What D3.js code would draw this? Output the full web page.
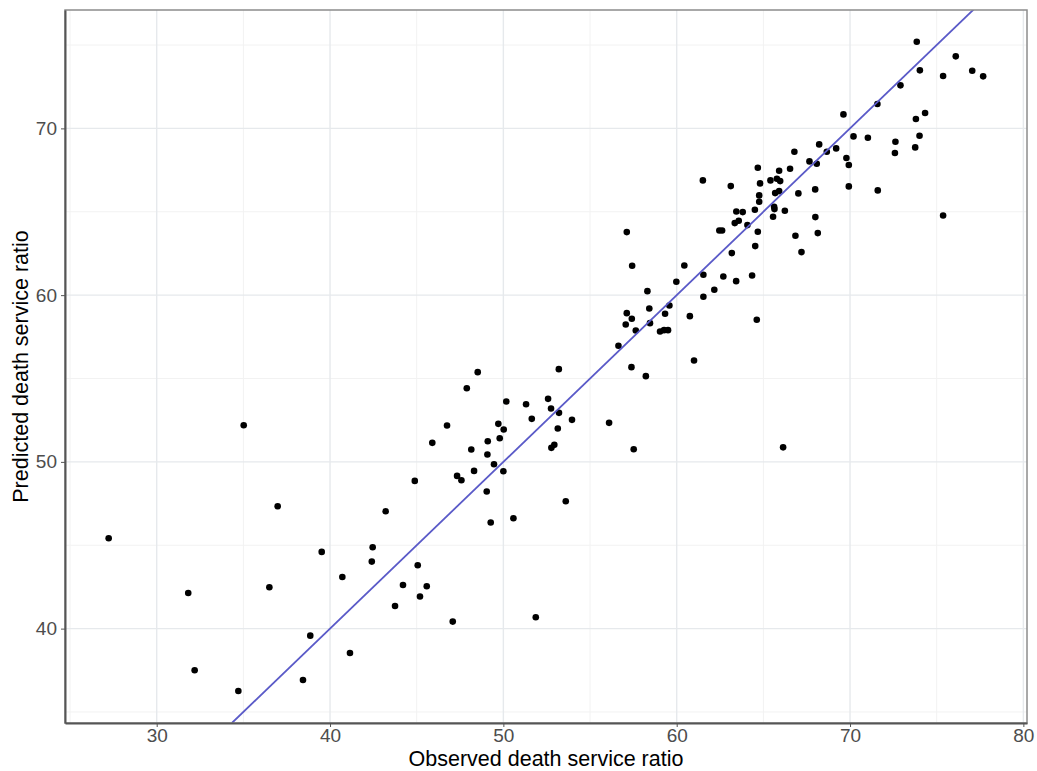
<!DOCTYPE html>
<html>
<head>
<meta charset="utf-8">
<script src="https://cdn.jsdelivr.net/npm/d3@7"></script>
<style>
  body { margin: 0; background: #fff; }
  text { font-family: "Liberation Sans", Arial, sans-serif; }
</style>
</head>
<body>
<div id="chart"></div>
<script>
// observed vs predicted death service ratio
const observed = [
  27.23, 35.02, 36.98, 43.21, 39.52, 42.46, 42.41, 40.71, 36.50, 31.82,
  43.75, 38.86, 41.15, 32.19, 38.44, 34.71, 45.06, 44.21, 45.58, 45.19,
  47.08, 51.87, 44.89, 45.90, 46.75, 47.89, 48.52, 47.33, 47.58, 48.15,
  48.31, 49.10, 49.08, 49.04, 49.46, 49.27, 49.71, 49.79, 50.02, 50.00,
  50.17, 50.58, 51.31, 51.64, 52.58, 52.75, 53.20, 53.21, 53.14, 52.94,
  52.77, 53.60, 53.96, 56.10, 57.52, 61.00, 56.64, 57.39, 58.22, 57.12,
  57.41, 57.06, 57.64, 58.42, 58.46, 59.33, 59.58, 59.04, 59.27, 59.50,
  60.76, 68.22, 68.66, 66.79, 67.66, 68.08, 66.54, 64.68, 65.91, 65.78,
  65.97, 65.41, 64.81, 61.51, 63.12, 67.99, 67.02, 65.91, 65.68, 64.76,
  64.76, 64.51, 65.62, 65.64, 66.24, 63.44, 63.81, 65.56, 68.00, 63.35,
  63.58, 64.08, 62.46, 62.62, 64.68, 68.14, 66.85, 57.12, 64.53, 67.20,
  63.18, 57.43, 60.44, 61.54, 62.69, 64.35, 63.43, 59.98, 62.17, 61.54,
  58.31, 64.62, 66.14, 73.85, 76.10, 74.03, 75.37, 77.05, 77.68, 72.91,
  71.58, 69.62, 73.80, 74.33, 70.20, 71.03, 74.01, 72.62, 72.59, 73.76,
  69.20, 69.79, 69.93, 69.93, 71.60, 75.37
];
const predicted = [
  45.42, 52.20, 47.34, 47.04, 44.60, 44.88, 44.02, 43.10, 42.48, 42.14,
  41.36, 39.58, 38.54, 37.50, 36.92, 36.26, 43.80, 42.62, 42.54, 41.93,
  40.42, 40.68, 48.86, 51.14, 52.18, 54.42, 55.38, 49.16, 48.90, 50.74,
  49.46, 51.24, 50.44, 48.22, 49.86, 46.36, 52.28, 51.42, 51.94, 49.44,
  53.62, 46.62, 53.46, 52.58, 53.78, 53.20, 55.56, 52.94, 52.00, 51.02,
  50.84, 47.64, 52.52, 52.34, 50.76, 56.08, 56.96, 55.68, 55.14, 58.92,
  58.58, 58.24, 57.88, 59.20, 58.32, 58.88, 59.38, 57.82, 57.90, 57.90,
  58.74, 69.04, 68.60, 68.60, 68.02, 67.88, 67.58, 67.64, 67.46, 66.98,
  66.84, 66.88, 66.70, 66.88, 66.54, 66.34, 66.10, 66.24, 66.12, 65.98,
  65.60, 65.12, 65.30, 65.16, 65.06, 65.02, 64.98, 64.70, 64.68, 64.32,
  64.46, 64.20, 63.88, 63.88, 63.80, 63.72, 63.56, 63.78, 62.94, 62.58,
  62.52, 61.76, 61.78, 61.22, 61.12, 61.18, 60.84, 60.80, 60.32, 59.90,
  60.24, 58.52, 50.87, 75.20, 74.32, 73.48, 73.14, 73.46, 73.12, 72.58,
  71.46, 70.84, 70.56, 70.92, 69.52, 69.44, 69.56, 69.20, 68.52, 68.86,
  68.80, 68.22, 67.80, 66.52, 66.28, 64.78
];

const xTicks = [30, 40, 50, 60, 70, 80];
const yTicks = [40, 50, 60, 70];
const xMinor = [25, 35, 45, 55, 65, 75];
const yMinor = [35, 45, 55, 65, 75];

const W = 1037, H = 771;
const margin = { top: 10, right: 10, bottom: 48, left: 65 };
const width = W - margin.left - margin.right;
const height = H - margin.top - margin.bottom;

const data = observed.map((d, i) => ({ obs: d, pred: predicted[i] }));

const svg = d3.select("#chart").append("svg")
  .attr("width", W)
  .attr("height", H);

const g = svg.append("g")
  .attr("transform", "translate(" + margin.left + "," + margin.top + ")");

const x = d3.scaleLinear().domain([24.71, 80.21]).range([0, width]);
const y = d3.scaleLinear().domain([34.34, 77.1]).range([height, 0]);

// grid (minor then major)
g.selectAll(".xminor").data(xMinor).enter().append("line")
  .attr("x1", d => x(d)).attr("x2", d => x(d))
  .attr("y1", 0).attr("y2", height)
  .attr("stroke", "#f2f2f2").attr("stroke-width", 1);
g.selectAll(".yminor").data(yMinor).enter().append("line")
  .attr("y1", d => y(d)).attr("y2", d => y(d))
  .attr("x1", 0).attr("x2", width)
  .attr("stroke", "#f2f2f2").attr("stroke-width", 1);
g.selectAll(".xmajor").data(xTicks).enter().append("line")
  .attr("x1", d => x(d)).attr("x2", d => x(d))
  .attr("y1", 0).attr("y2", height)
  .attr("stroke", "#e6e9ec").attr("stroke-width", 1.4);
g.selectAll(".ymajor").data(yTicks).enter().append("line")
  .attr("y1", d => y(d)).attr("y2", d => y(d))
  .attr("x1", 0).attr("x2", width)
  .attr("stroke", "#e6e9ec").attr("stroke-width", 1.4);

// clip for the reference line
svg.append("defs").append("clipPath").attr("id", "clip")
  .append("rect").attr("width", width).attr("height", height);

// points
g.selectAll("circle").data(data).enter().append("circle")
  .attr("cx", d => x(d.obs))
  .attr("cy", d => y(d.pred))
  .attr("r", 3.3)
  .attr("fill", "#000");

// y = x line
const lo = Math.max(x.domain()[0], y.domain()[0]);
const hi = Math.min(x.domain()[1], y.domain()[1]) + 5;
g.append("line")
  .attr("clip-path", "url(#clip)")
  .attr("x1", x(lo)).attr("y1", y(lo))
  .attr("x2", x(hi)).attr("y2", y(hi))
  .attr("stroke", "#5a5ac8")
  .attr("stroke-width", 1.8);

// panel border
g.append("rect")
  .attr("width", width).attr("height", height)
  .attr("fill", "none")
  .attr("stroke", "#8c8c8c")
  .attr("stroke-width", 1.5);

// axes
const xAxis = d3.axisBottom(x).tickValues(xTicks).tickSize(4).tickSizeOuter(0).tickPadding(2);
const yAxis = d3.axisLeft(y).tickValues(yTicks).tickSize(4).tickSizeOuter(0).tickPadding(4);

const xg = g.append("g").attr("transform", "translate(0," + height + ")").call(xAxis);
const yg = g.append("g").call(yAxis);

[xg, yg].forEach(a => {
  a.select(".domain").attr("stroke", "#555").attr("stroke-width", 2);
  a.selectAll(".tick line").attr("stroke", "#555").attr("stroke-width", 1);
  a.selectAll(".tick text")
    .attr("fill", "#4d4d4d")
    .style("font-size", "19px")
    .style("font-family", "'Liberation Sans', Arial, sans-serif");
});

// axis titles
svg.append("text")
  .attr("x", margin.left + width / 2)
  .attr("y", H - 5)
  .attr("text-anchor", "middle")
  .style("font-size", "21.5px")
  .attr("fill", "#000")
  .text("Observed death service ratio");

svg.append("text")
  .attr("transform", "translate(28," + (margin.top + height / 2) + ") rotate(-90)")
  .attr("text-anchor", "middle")
  .style("font-size", "21.5px")
  .attr("fill", "#000")
  .text("Predicted death service ratio");
</script>
</body>
</html>
